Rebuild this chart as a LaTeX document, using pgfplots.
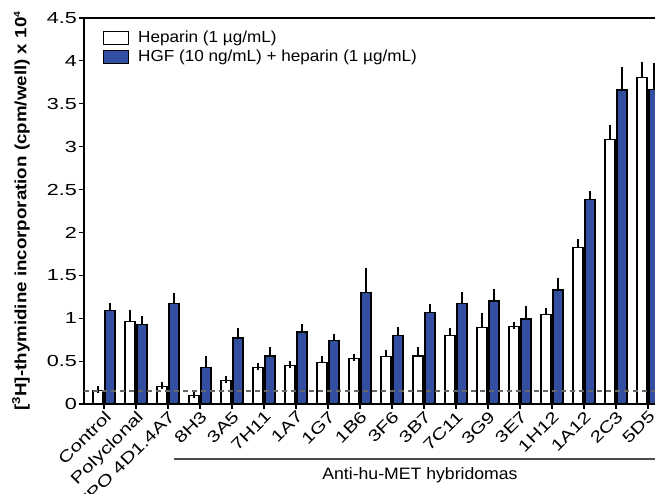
\documentclass[border=0pt]{standalone}
\usepackage{pgfplots}
\usepackage{pgfplotstable}
\pgfplotsset{compat=1.18}
\usepackage{fontspec}
\setmainfont{Liberation Sans}
\newfontfamily\tickfont[FakeStretch=1.35]{Liberation Sans}
\newfontfamily\xtickfont[FakeStretch=1.3]{Liberation Sans}
\newfontfamily\legfont[FakeStretch=1.07]{Liberation Sans}
\newfontfamily\ylabfont[FakeStretch=1.15]{Liberation Sans}
\definecolor{barblue}{RGB}{50,78,160}
\pgfplotstableread{
idx wh whe bl ble
0  0.16 0.010 1.09 0.05
1  0.96 0.090 0.93 0.05
2  0.20 0.010 1.17 0.08
3  0.10 0.005 0.43 0.09
4  0.27 0.010 0.77 0.08
5  0.43 0.010 0.56 0.06
6  0.45 0.010 0.84 0.05
7  0.48 0.040 0.74 0.03
8  0.53 0.010 1.30 0.25
9  0.55 0.040 0.80 0.06
10 0.56 0.060 1.07 0.05
11 0.80 0.040 1.17 0.09
12 0.89 0.130 1.20 0.10
13 0.90 0.020 0.99 0.11
14 1.04 0.040 1.33 0.10
15 1.82 0.060 2.38 0.06
16 3.08 0.130 3.66 0.23
17 3.81 0.140 3.67 0.27
}\datatable
\begin{document}
\begin{tikzpicture}
\begin{axis}[
  name=ax,
  scale only axis, width=571pt, height=386pt,
  xmin=-0.625, xmax=17.22, ymin=0, ymax=4.5,
  axis x line*=box, axis y line*=left,
  axis line style={line width=1.3pt, black},
  xtick pos=bottom,
  ytick={0,0.5,...,4.5},
  yticklabel style={/pgf/number format/fixed, inner sep=2pt, font=\tickfont\fontsize{16}{19}\selectfont},
  /pgf/number format/assume math mode=true,
  tick align=outside, major tick length=5pt,
  every tick/.style={black, line width=1.2pt},
  xtick={0,...,17},
  xticklabels={Control,Polyclonal,TPO 4D1.4A7,8H3,3A5,7H11,1A7,1G7,1B6,3F6,3B7,7C11,3G9,3E7,1H12,1A12,2C3,5D5},
  xticklabel style={rotate=45, anchor=north east, inner sep=0.5pt, font=\xtickfont\fontsize{16}{19}\selectfont},
  ylabel={\bfseries [\textsuperscript{3}H]-thymidine incorporation (cpm/well) x 10\textsuperscript{\fontsize{9}{9}\selectfont 4}},
  every axis y label/.style={at={(rel axis cs:0,0.5)}, rotate=90, anchor=center, yshift=63pt, font=\ylabfont\fontsize{16.3}{19}\selectfont},
  ybar=2pt, bar width=10pt,
  legend style={at={(0.033,0.9715)}, anchor=north west, draw=none, fill=none,
    font=\legfont\fontsize{16}{19}\selectfont, row sep=2pt, column sep=7pt, inner sep=0pt,
    nodes={inner sep=2pt}},
  legend cell align=left,
  legend image code/.code={\draw[#1, line width=1.2pt] (0pt,-6.5pt) rectangle (25pt,6.5pt);},
]
\addplot[fill=white, draw=black, line width=1.2pt,
  error bars/.cd, y dir=plus, y explicit,
  error bar style={line width=1.4pt, black},
  error mark options={line width=1.6pt, black, mark size=3.5pt}]
  table[x=idx, y=wh, y error=whe]{\datatable};
\addlegendentry{Heparin (1 µg/mL)}
\addplot[fill=barblue, draw=black, line width=1.2pt,
  error bars/.cd, y dir=plus, y explicit,
  error bar style={line width=1.4pt, black},
  error mark options={line width=1.6pt, black, mark size=3.5pt}]
  table[x=idx, y=bl, y error=ble]{\datatable};
\addlegendentry{HGF (10 ng/mL) + heparin (1 µg/mL)}
\addplot[sharp plot, forget plot, draw=black!60, line width=1.3pt, dash pattern=on 5pt off 4pt]
  coordinates {(-0.625,0.15) (17.22,0.15)};
\coordinate (bl) at (rel axis cs:0,0);
\coordinate (tr) at (rel axis cs:1,1);
\coordinate (hl) at (axis cs:2.19,0);
\coordinate (hr) at (rel axis cs:1,0);
\coordinate (hm) at (axis cs:9.875,0);
\end{axis}
\draw[line width=1.1pt, black!70] ([yshift=-55pt]hl) -- ([yshift=-55pt]hr);
\node[font=\legfont\fontsize{16.5}{19}\selectfont] at ([yshift=-71pt]hm) {Anti-hu-MET hybridomas};
\pgfresetboundingbox
\path[use as bounding box] ([xshift=-84pt,yshift=-90pt]bl) rectangle ([yshift=18pt]tr);
\end{tikzpicture}
\end{document}
